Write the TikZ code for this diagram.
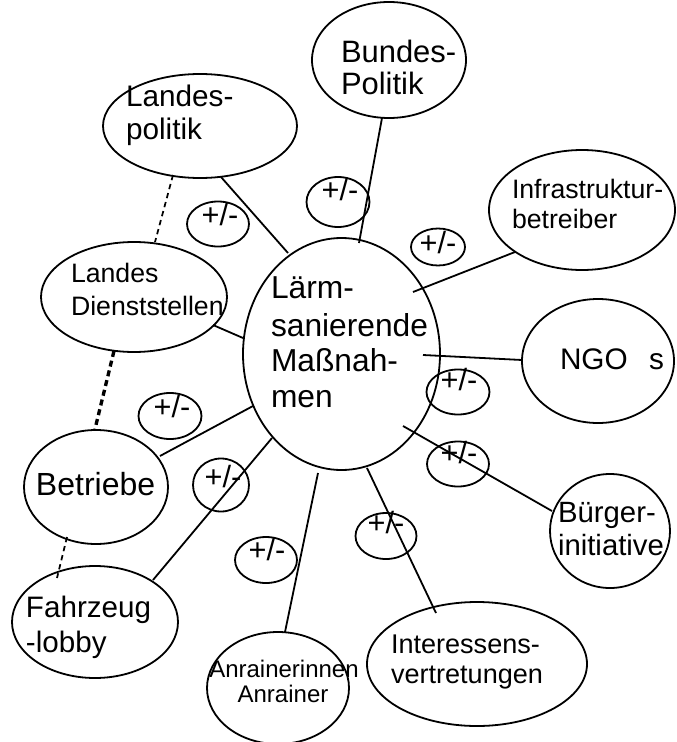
\documentclass[tikz,border=0pt]{standalone}
\usepackage{fontspec}
\setmainfont{Liberation Sans}
\usetikzlibrary{shapes.geometric}
\newcommand\myfs[1]{\fontsize{#1}{#1}\selectfont}
\tikzset{
  bub/.style n args={2}{ellipse, draw, line width=1.35pt, inner sep=0pt, outer sep=0pt,
     minimum width={2*#1*0.75pt}, minimum height={2*#2*0.75pt}},
  lbl/.style={anchor=base west, inner sep=0pt, outer sep=0pt},
  clbl/.style={anchor=base, inner sep=0pt, outer sep=0pt},
  conn/.style={line width=1.35pt},
  thindash/.style={line width=1.3pt, dash pattern=on 4pt off 3pt},
  thickdash/.style={line width=2.5pt, dash pattern=on 4.5pt off 3pt},
  pm/.style={clbl, font=\myfs{23pt}}
}
\begin{document}
\begin{tikzpicture}[x=0.75pt, y=-0.75pt]
\useasboundingbox (0,0) rectangle (676,742);

% ellipses
\node[bub={77}{58}] (bund) at (389,60) {};
\node[bub={97}{52}] (lp) at (200,126) {};
\node[bub={93}{60}] (infra) at (582,210) {};
\node[bub={93}{55}] (ld) at (134,297) {};
\node[bub={98.5}{116}] (mid) at (341.5,354) {};
\node[bub={76}{62}] (ngo) at (598,361) {};
\node[bub={72}{57}] (betr) at (96,487) {};
\node[bub={60}{57}] (bue) at (610,531) {};
\node[bub={83}{56}] (fahr) at (95,622) {};
\node[bub={71}{56}] (anr) at (278,688) {};
\node[bub={110}{62}] (inter) at (477,664) {};

% +/- ellipses
\node[bub={31}{22.5}] (pa) at (218,224) {};
\node[bub={31.5}{25}] (pb) at (338,202) {};
\node[bub={27}{18.5}] (pc) at (438,247) {};
\node[bub={31.5}{22.5}] (pd) at (458,392) {};
\node[bub={31}{22.5}] (pe) at (458,464) {};
\node[bub={30.5}{23}] (pf) at (386,536) {};
\node[bub={31}{23}] (pg) at (266,560) {};
\node[bub={28}{26.5}] (ph) at (221,485) {};
\node[bub={31.5}{23}] (pi) at (170,416) {};

% connector end points
\coordinate (lpA) at (221,177);   \coordinate (lpB) at (288,253);
\coordinate (buA) at (382,118);   \coordinate (buB) at (359,243);
\coordinate (inA) at (515,252);   \coordinate (inB) at (413,292);
\coordinate (ngA) at (522,360);   \coordinate (ngB) at (423,355);
\coordinate (bgA) at (552,511);   \coordinate (bgB) at (403,426);
\coordinate (itA) at (436,613);   \coordinate (itB) at (367,468);
\coordinate (arA) at (285,632);   \coordinate (arB) at (318,473);
\coordinate (fzA) at (153,580);   \coordinate (fzB) at (272,438);
\coordinate (beA) at (160,456);   \coordinate (beB) at (253,406);
\coordinate (ldA) at (213,325);   \coordinate (ldB) at (243,338);

\draw[conn] (lpA) -- (lpB);
\draw[conn] (buA) -- (buB);
\draw[conn] (inA) -- (inB);
\draw[conn] (ngA) -- (ngB);
\draw[conn] (bgA) -- (bgB);
\draw[conn] (itA) -- (itB);
\draw[conn] (arA) -- (arB);
\draw[conn] (fzA) -- (fzB);
\draw[conn] (beA) -- (beB);
\draw[conn] (ldA) -- (ldB);

% dashed links
\coordinate (d1a) at (173,175); \coordinate (d1b) at (155,242);
\coordinate (d2a) at (114,351); \coordinate (d2b) at (95,429);
\coordinate (d3a) at (67,537);  \coordinate (d3b) at (57,578);
\draw[thindash] (d1a) -- (d1b);
\draw[thickdash] (d2a) -- (d2b);
\draw[thindash] (d3a) -- (d3b);

% labels
\node[lbl, font=\myfs{22.3pt}] (lp1) at (126,106) {Landes-};
\node[lbl, font=\myfs{22.3pt}] (lp2) at (126,139) {politik};
\node[lbl, font=\myfs{23.2pt}] (bu1) at (341,63) {Bundes-};
\node[lbl, font=\myfs{23.2pt}] (bu2) at (341,94) {Politik};
\node[lbl, font=\myfs{20pt}] (in1) at (512,198) {Infrastruktur-};
\node[lbl, font=\myfs{20pt}] (in2) at (512,228) {betreiber};
\node[lbl, font=\myfs{20pt}] (ld1) at (71,282) {Landes};
\node[lbl, font=\myfs{20pt}] (ld2) at (71,315) {Dienststellen};
\node[lbl, font=\myfs{23.8pt}] (m1) at (271,298) {Lärm-};
\node[lbl, font=\myfs{23.8pt}] (m2) at (271,336) {sanierende};
\node[lbl, font=\myfs{23.8pt}] (m3) at (271,371) {Maßnah-};
\node[lbl, font=\myfs{23.8pt}] (m4) at (271,407) {men};
\node[lbl, font=\myfs{22.3pt}] (ng1) at (560,369) {NGO};
\node[lbl, font=\myfs{22.3pt}] (ng2) at (649,369) {s};
\node[lbl, font=\myfs{24pt}] (be1) at (36,495) {Betriebe};
\node[lbl, font=\myfs{22pt}] (bg1) at (558,522) {Bürger-};
\node[lbl, font=\myfs{22pt}] (bg2) at (558,555) {initiative};
\node[lbl, font=\myfs{22.2pt}] (fz1) at (26,617) {Fahrzeug};
\node[lbl, font=\myfs{22.2pt}] (fz2) at (26,652) {-lobby};
\node[clbl, font=\myfs{18pt}] (ar1) at (284,677) {Anrainerinnen};
\node[clbl, font=\myfs{18pt}] (ar2) at (283,702) {Anrainer};
\node[lbl, font=\myfs{20.3pt}] (it1) at (391,653) {Interessens-};
\node[lbl, font=\myfs{20.3pt}] (it2) at (391,683) {vertretungen};

% +/- labels
\node[pm] (ta) at (220,225) {+/-};
\node[pm] (tb) at (340,200) {+/-};
\node[pm] (tc) at (438,253) {+/-};
\node[pm] (td) at (459,390) {+/-};
\node[pm] (te) at (459,463) {+/-};
\node[pm] (tf) at (386,533) {+/-};
\node[pm] (tg) at (267,560) {+/-};
\node[pm] (th) at (223,487) {+/-};
\node[pm] (ti) at (172,417) {+/-};
\end{tikzpicture}
\end{document}
